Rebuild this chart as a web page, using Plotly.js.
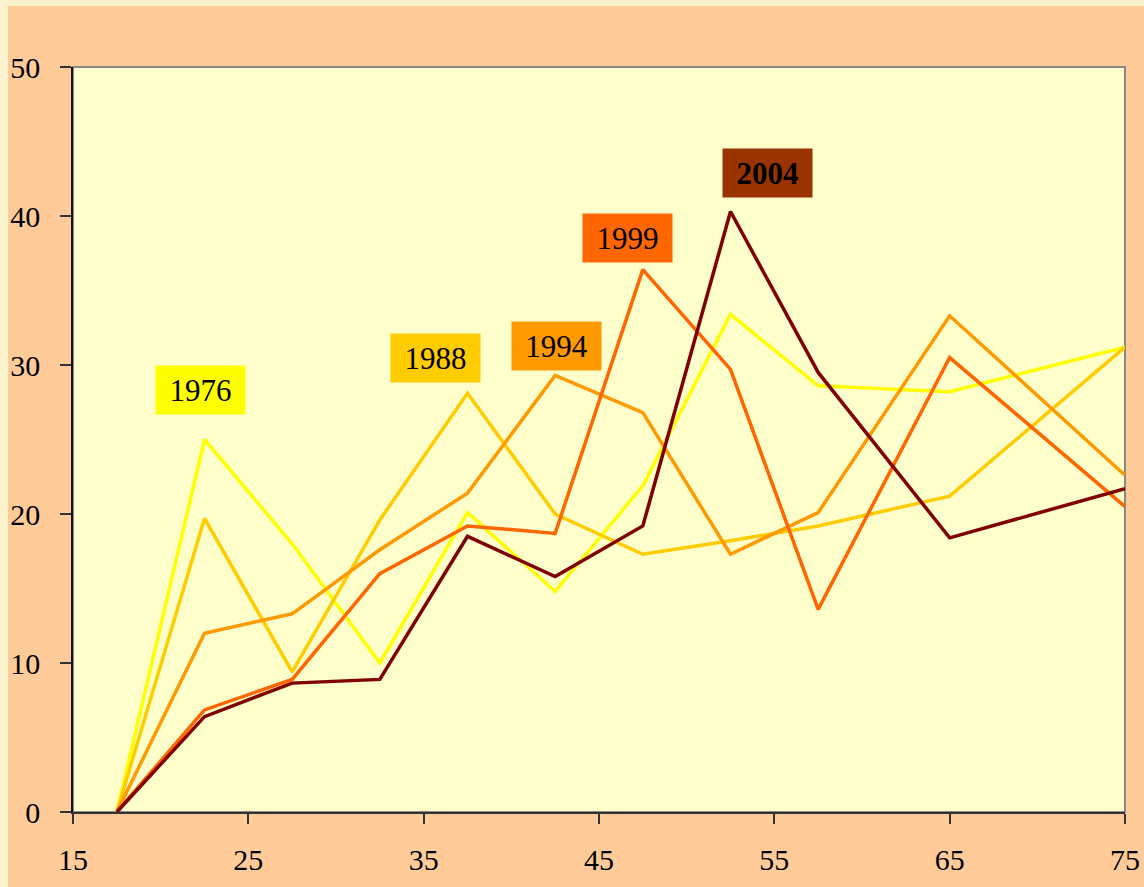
<!DOCTYPE html>
<html>
<head>
<meta charset="utf-8">
<script src="https://cdn.plot.ly/plotly-3.0.1.min.js"></script>
<style>
  html, body { margin: 0; padding: 0; background: #FAF2CC; }
  #chart { position: absolute; left: 8px; top: 6px; width: 1136px; height: 881px; }
</style>
</head>
<body>
<div id="chart"></div>
<script>
// Age group midpoints
const ages = [17.5, 22.5, 27.5, 32.5, 37.5, 42.5, 47.5, 52.5, 57.5, 65, 75];

// Series values
const y1976 = [0, 25.0, 18.0, 10.0, 20.1, 14.8, 21.9, 33.4, 28.6, 28.2, 31.2];
const y1988 = [0, 19.7, 9.4, 19.6, 28.1, 20.0, 17.3, 18.2, 19.2, 21.2, 31.2];
const y1994 = [0, 12.0, 13.3, 17.6, 21.4, 29.3, 26.8, 17.3, 20.1, 33.3, 22.6];
const y1999 = [0, 6.85, 8.9, 16.0, 19.2, 18.7, 36.4, 29.7, 13.6, 30.5, 20.5];
const y2004 = [0, 6.4, 8.65, 8.9, 18.5, 15.8, 19.2, 40.3, 29.5, 18.4, 21.7];

const seriesNames = ["1976", "1988", "1994", "1999", "2004"];
const seriesValues = [y1976, y1988, y1994, y1999, y2004];
const lineColors = ["#FFFF00", "#FFCC00", "#FF9900", "#FF6600", "#800000"];

// Label positions (data coordinates) and box colours
const labelX = [22.3, 35.65, 42.55, 46.65, 54.6];
const labelY = [28.3, 30.5, 31.3, 38.5, 42.9];
const labelBg = ["#FFFF00", "#FFCC00", "#FF9900", "#FF6600", "#993300"];
const labelBold = [false, false, false, false, true];

const xTicks = [15, 25, 35, 45, 55, 65, 75];
const yTicks = [0, 10, 20, 30, 40, 50];

const traces = seriesNames.map((n, i) => ({
  type: "scatter",
  mode: "lines",
  name: n,
  x: ages,
  y: seriesValues[i],
  line: { color: lineColors[i], width: 3.5 },
  hoverinfo: "x+y+name"
}));

const annotations = seriesNames.map((n, i) => ({
  x: labelX[i], y: labelY[i], xref: "x", yref: "y",
  text: labelBold[i] ? "<b>" + n + "</b>" : n,
  showarrow: false,
  bgcolor: labelBg[i],
  width: 87, height: 46,
  font: { family: "Liberation Serif, Times New Roman, serif", size: 31, color: "#000000" }
}));

const layout = {
  width: 1136, height: 881,
  margin: { l: 65, r: 19, t: 61, b: 75 },
  paper_bgcolor: "#FFCC99",
  plot_bgcolor: "#FFFFCC",
  showlegend: false,
  font: { family: "Liberation Serif, Times New Roman, serif", size: 30, color: "#000000" },
  xaxis: {
    range: [15, 75],
    tickvals: xTicks,
    ticktext: xTicks.map(String),
    ticks: "outside", ticklen: 10, tickwidth: 1.5, tickcolor: "#333333",
    showgrid: false, zeroline: false,
    showline: true, linecolor: "#333333", linewidth: 2,
    ticklabelstandoff: 10,
    tickfont: { family: "Liberation Serif, Times New Roman, serif", size: 30, color: "#000000" }
  },
  yaxis: {
    range: [0, 50],
    tickvals: yTicks,
    ticktext: yTicks.map(String),
    ticks: "outside", ticklen: 11, tickwidth: 1.5, tickcolor: "#333333",
    showgrid: false, zeroline: false,
    showline: true, linecolor: "#111111", linewidth: 1.5,
    ticklabelstandoff: 14,
    tickfont: { family: "Liberation Serif, Times New Roman, serif", size: 30, color: "#000000" }
  },
  shapes: [{
    type: "rect", xref: "paper", yref: "paper", x0: 0, x1: 1, y0: 0, y1: 1,
    line: { color: "#888888", width: 2 }, layer: "below"
  }],
  annotations: annotations
};

Plotly.newPlot("chart", traces, layout, { displayModeBar: false, staticPlot: false });
</script>
</body>
</html>
